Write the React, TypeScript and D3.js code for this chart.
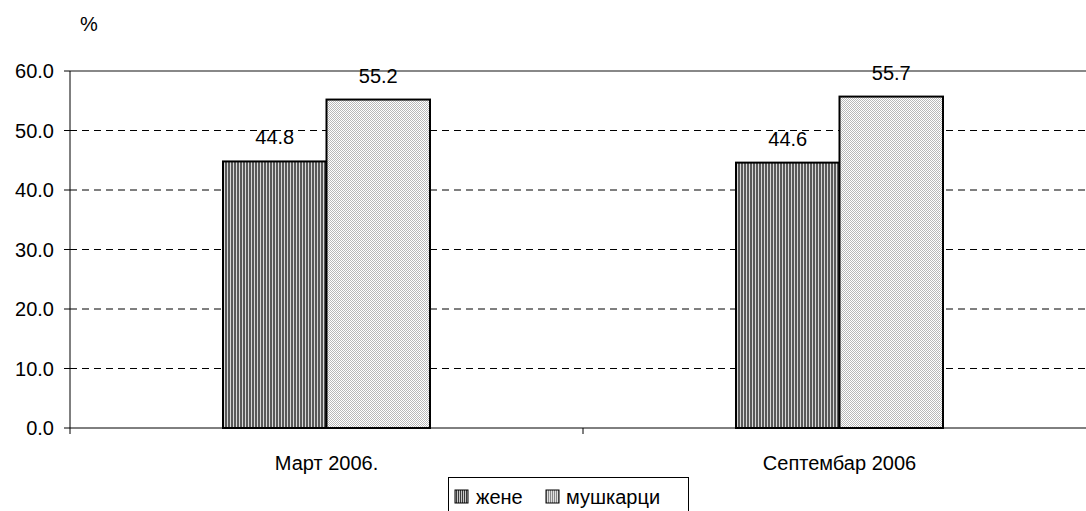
import React from "react";
import * as d3 from "d3";

const categories = ["Март 2006.", "Септембар 2006"];
const seriesNames = ["жене", "мушкарци"];
const women = [44.8, 44.6];
const men = [55.2, 55.7];
const yTicks = [0, 10, 20, 30, 40, 50, 60];

const W = 1086;
const H = 511;
const left = 70;
const right = 1096;
const top = 71;
const bottom = 428;
const font = "Arial, 'Liberation Sans', sans-serif";
const fs = 20;

export default function App() {
  const x0 = d3.scaleBand<string>().domain(categories).range([left, right]).paddingInner(0).paddingOuter(0);
  const x1 = d3.scaleBand<string>().domain(seriesNames).range([0, 207]);
  const groupOffset = (x0.bandwidth() - 207) / 2;
  const y = d3.scaleLinear().domain([0, 60]).range([bottom, top]);
  const series = [women, men];
  const fills = ["url(#stripes)", "url(#dots)"];

  return (
    <svg width={W} height={H} style={{ position: "absolute", left: 0, top: 0, background: "#fff" }} fontFamily={font}>
      <defs>
        <pattern id="stripes" width={3} height={4} patternUnits="userSpaceOnUse">
          <rect width={3} height={4} fill="#5a5a5a" />
          <rect x={2} width={1} height={4} fill="#d8d8d8" />
        </pattern>
        <pattern id="dots" width={2} height={2} patternUnits="userSpaceOnUse">
          <rect width={2} height={2} fill="#ffffff" />
          <rect width={1} height={1} fill="#b8b8b8" />
          <rect x={1} y={1} width={1} height={1} fill="#b8b8b8" />
        </pattern>
        <pattern id="legstripes" width={2} height={4} patternUnits="userSpaceOnUse">
          <rect width={2} height={4} fill="#3a3a3a" />
          <rect x={1} width={1} height={4} fill="#c8c8c8" />
        </pattern>
        <pattern id="legstripes2" width={2} height={4} patternUnits="userSpaceOnUse">
          <rect width={2} height={4} fill="#888" />
          <rect x={1} width={1} height={4} fill="#e0e0e0" />
        </pattern>
      </defs>
      <rect width={W} height={H} fill="#fff" />
      <text x={80} y={31} fontSize={fs}>%</text>

      {yTicks.map((t) => (
        <g key={t}>
          {t > 0 && t < 60 && (
            <line x1={left} x2={W} y1={y(t)} y2={y(t)} stroke="#000" strokeWidth={1} strokeDasharray="7,5" />
          )}
          <line x1={left - 6} x2={left} y1={y(t)} y2={y(t)} stroke="#000" />
          <text x={54} y={y(t)} dy="0.36em" textAnchor="end" fontSize={fs}>
            {t.toFixed(1)}
          </text>
        </g>
      ))}
      <line x1={left} x2={W} y1={y(60)} y2={y(60)} stroke="#888" strokeWidth={2} />

      {categories.map((c, ci) => (
        <g key={c}>
          {seriesNames.map((s, si) => {
            const v = series[si][ci];
            const bx = (x0(c) as number) + groupOffset + (x1(s) as number);
            return (
              <g key={s}>
                <rect x={bx} y={y(v)} width={x1.bandwidth()} height={bottom - y(v)} fill={fills[si]} stroke="#000" strokeWidth={2} />
                <text x={bx + x1.bandwidth() / 2} y={y(v) - 17} textAnchor="middle" fontSize={fs}>
                  {v.toFixed(1)}
                </text>
              </g>
            );
          })}
          <text x={(x0(c) as number) + x0.bandwidth() / 2} y={470} textAnchor="middle" fontSize={fs}>
            {c}
          </text>
        </g>
      ))}

      <line x1={left} x2={left} y1={top} y2={bottom} stroke="#000" />
      <line x1={left} x2={W} y1={bottom} y2={bottom} stroke="#000" />
      {[left, x0(categories[1]) as number].map((tx) => (
        <line key={tx} x1={tx} x2={tx} y1={bottom} y2={bottom + 6} stroke="#000" />
      ))}

      <rect x={448.5} y={477.5} width={240} height={40} fill="#fff" stroke="#000" />
      <rect x={455} y={490} width={13} height={13} fill="url(#legstripes)" stroke="#000" />
      <text x={476} y={504} fontSize={fs}>{seriesNames[0]}</text>
      <rect x={546} y={490} width={13} height={13} fill="url(#legstripes2)" stroke="#000" />
      <text x={566} y={504} fontSize={fs}>{seriesNames[1]}</text>
    </svg>
  );
}
